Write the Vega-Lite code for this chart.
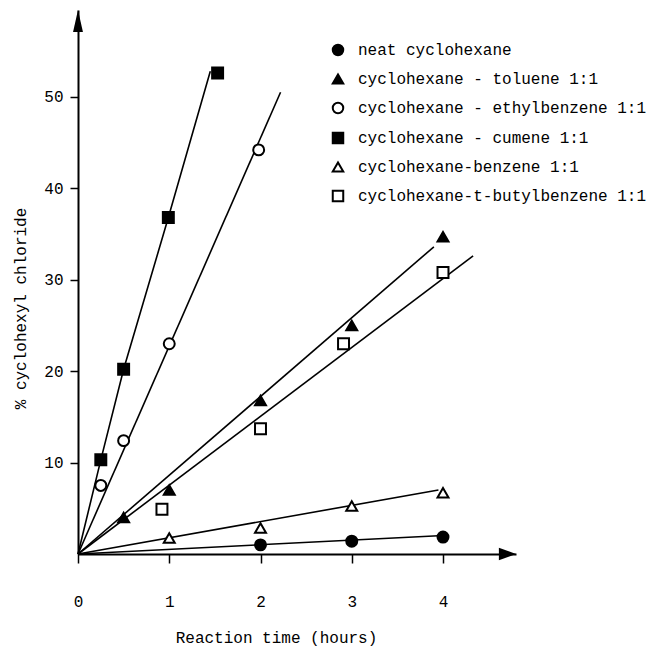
{
  "$schema": "https://vega.github.io/schema/vega-lite/v6.json",
  "autosize": {"type": "none"},
  "padding": {"left": 78, "top": 10, "right": 135, "bottom": 95},
  "width": 438,
  "height": 544,
  "background": "white",
  "config": {
    "view": {"stroke": null},
    "font": "Liberation Mono",
    "axis": {
      "labelFont": "Liberation Mono", "labelFontSize": 16, "labelColor": "black",
      "titleFont": "Liberation Mono", "titleFontSize": 16, "titleFontWeight": "normal", "titleColor": "black",
      "domainColor": "black", "domainWidth": 2, "tickColor": "black", "tickWidth": 1.5, "grid": false
    },
    "legend": {
      "labelFont": "Liberation Mono", "labelFontSize": 16, "labelColor": "black", "labelLimit": 0,
      "symbolStrokeWidth": 2
    }
  },
  "datasets": {
    "points": [
      {"series": "neat cyclohexane", "hours": 2, "pct": 1.0},
      {"series": "neat cyclohexane", "hours": 3, "pct": 1.4},
      {"series": "neat cyclohexane", "hours": 4, "pct": 1.85},
      {"series": "cyclohexane - toluene 1:1", "hours": 0.5, "pct": 4.0},
      {"series": "cyclohexane - toluene 1:1", "hours": 1, "pct": 7.0},
      {"series": "cyclohexane - toluene 1:1", "hours": 2, "pct": 16.8},
      {"series": "cyclohexane - toluene 1:1", "hours": 3, "pct": 25.0},
      {"series": "cyclohexane - toluene 1:1", "hours": 4, "pct": 34.7},
      {"series": "cyclohexane - ethylbenzene 1:1", "hours": 0.25, "pct": 7.5},
      {"series": "cyclohexane - ethylbenzene 1:1", "hours": 0.5, "pct": 12.4},
      {"series": "cyclohexane - ethylbenzene 1:1", "hours": 1, "pct": 23.0},
      {"series": "cyclohexane - ethylbenzene 1:1", "hours": 1.98, "pct": 44.2},
      {"series": "cyclohexane - cumene 1:1", "hours": 0.25, "pct": 10.3},
      {"series": "cyclohexane - cumene 1:1", "hours": 0.5, "pct": 20.2},
      {"series": "cyclohexane - cumene 1:1", "hours": 0.99, "pct": 36.8},
      {"series": "cyclohexane - cumene 1:1", "hours": 1.53, "pct": 52.6},
      {"series": "cyclohexane-benzene 1:1", "hours": 1, "pct": 1.75},
      {"series": "cyclohexane-benzene 1:1", "hours": 2, "pct": 2.85},
      {"series": "cyclohexane-benzene 1:1", "hours": 3, "pct": 5.25},
      {"series": "cyclohexane-benzene 1:1", "hours": 4, "pct": 6.7},
      {"series": "cyclohexane-t-butylbenzene 1:1", "hours": 0.92, "pct": 4.9},
      {"series": "cyclohexane-t-butylbenzene 1:1", "hours": 2, "pct": 13.7},
      {"series": "cyclohexane-t-butylbenzene 1:1", "hours": 2.91, "pct": 23.0},
      {"series": "cyclohexane-t-butylbenzene 1:1", "hours": 4, "pct": 30.8}
    ],
    "fits": [
      {"series": "neat cyclohexane", "hours": 0, "pct": 0},
      {"series": "neat cyclohexane", "hours": 3.95, "pct": 2.0},
      {"series": "cyclohexane - toluene 1:1", "hours": 0, "pct": 0},
      {"series": "cyclohexane - toluene 1:1", "hours": 3.9, "pct": 33.6},
      {"series": "cyclohexane - ethylbenzene 1:1", "hours": 0, "pct": 0},
      {"series": "cyclohexane - ethylbenzene 1:1", "hours": 2.22, "pct": 50.5},
      {"series": "cyclohexane - cumene 1:1", "hours": 0, "pct": 0},
      {"series": "cyclohexane - cumene 1:1", "hours": 0.25, "pct": 10.3},
      {"series": "cyclohexane - cumene 1:1", "hours": 0.5, "pct": 20.2},
      {"series": "cyclohexane - cumene 1:1", "hours": 0.99, "pct": 36.8},
      {"series": "cyclohexane - cumene 1:1", "hours": 1.45, "pct": 52.8},
      {"series": "cyclohexane-benzene 1:1", "hours": 0, "pct": 0},
      {"series": "cyclohexane-benzene 1:1", "hours": 3.95, "pct": 7.0},
      {"series": "cyclohexane-t-butylbenzene 1:1", "hours": 0, "pct": 0},
      {"series": "cyclohexane-t-butylbenzene 1:1", "hours": 4.33, "pct": 32.6}
    ]
  },
  "layer": [
    {
      "data": {"name": "fits"},
      "mark": {"type": "line", "color": "black", "strokeWidth": 1.6},
      "encoding": {
        "x": {"field": "hours", "type": "quantitative", "scale": {"domain": [0, 4.8], "nice": false, "zero": false},
          "axis": {"values": [0, 1, 2, 3, 4], "format": "d", "tickSize": 9, "labelPadding": 30, "labelBaseline": "top", "labelFlush": false,
            "title": "Reaction time (hours)", "titleX": 198, "titleY": 88, "titleBaseline": "alphabetic", "titleAlign": "center", "titleAnchor": null}},
        "y": {"field": "pct", "type": "quantitative", "scale": {"domain": [0, 59.5], "nice": false, "zero": false},
          "axis": {"values": [10, 20, 30, 40, 50], "format": "d", "tickSize": 8, "labelPadding": 7, "labelFlush": false,
            "title": "% cyclohexyl chloride", "titleAngle": -90, "titleX": -50, "titleY": 298, "titleAlign": "center", "titleBaseline": "bottom", "titleAnchor": null}},
        "detail": {"field": "series", "type": "nominal"}
      }
    },
    {
      "data": {"name": "points"},
      "mark": {"type": "point", "filled": true, "strokeWidth": 2, "size": 120, "opacity": 1},
      "encoding": {
        "x": {"field": "hours", "type": "quantitative", "title": "Reaction time (hours)"},
        "y": {"field": "pct", "type": "quantitative", "title": "% cyclohexyl chloride"},
        "shape": {"field": "series", "type": "nominal", "title": null,
          "scale": {"domain": ["neat cyclohexane", "cyclohexane - toluene 1:1", "cyclohexane - ethylbenzene 1:1", "cyclohexane - cumene 1:1", "cyclohexane-benzene 1:1", "cyclohexane-t-butylbenzene 1:1"],
            "range": ["circle", "triangle-up", "circle", "square", "triangle-up", "square"]},
          "legend": {"orient": "none", "legendX": 252, "legendY": 32, "padding": 0, "rowPadding": 10, "labelOffset": 12, "symbolSize": 110, "labelLimit": 0, "title": null}},
        "fill": {"field": "series", "type": "nominal", "title": null,
          "scale": {"domain": ["neat cyclohexane", "cyclohexane - toluene 1:1", "cyclohexane - ethylbenzene 1:1", "cyclohexane - cumene 1:1", "cyclohexane-benzene 1:1", "cyclohexane-t-butylbenzene 1:1"],
            "range": ["black", "black", "white", "black", "white", "white"]},
          "legend": {"orient": "none", "legendX": 252, "legendY": 32, "padding": 0, "rowPadding": 10, "labelOffset": 12, "symbolSize": 110, "labelLimit": 0, "title": null}},
        "stroke": {"field": "series", "type": "nominal", "title": null,
          "scale": {"domain": ["neat cyclohexane", "cyclohexane - toluene 1:1", "cyclohexane - ethylbenzene 1:1", "cyclohexane - cumene 1:1", "cyclohexane-benzene 1:1", "cyclohexane-t-butylbenzene 1:1"],
            "range": ["black", "black", "black", "black", "black", "black"]},
          "legend": {"orient": "none", "legendX": 252, "legendY": 32, "padding": 0, "rowPadding": 10, "labelOffset": 12, "symbolSize": 110, "labelLimit": 0, "title": null}}
      }
    },
    {
      "data": {"values": [{}]},
      "mark": {"type": "point", "filled": true, "color": "black", "opacity": 1, "size": 324, "shape": "M0,0L-1.9,-0.7L-1.9,0.7Z"},
      "encoding": {"x": {"datum": 4.8, "type": "quantitative"}, "y": {"datum": 0, "type": "quantitative"}}
    },
    {
      "data": {"values": [{}]},
      "mark": {"type": "point", "filled": true, "color": "black", "opacity": 1, "size": 484, "shape": "M0,0L-0.45,2L0.45,2Z"},
      "encoding": {"x": {"datum": 0, "type": "quantitative"}, "y": {"datum": 59.5, "type": "quantitative"}}
    }
  ]
}
